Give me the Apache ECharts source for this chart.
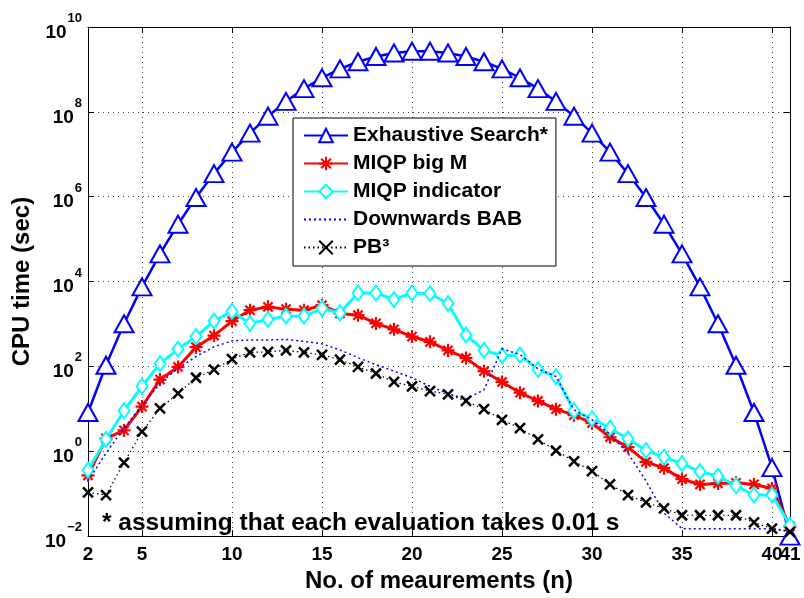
<!DOCTYPE html>
<html>
<head>
<meta charset="utf-8">
<script src="https://cdn.jsdelivr.net/npm/echarts@6/dist/echarts.min.js"></script>
<style>
html, body { margin: 0; padding: 0; background: #fff; }
#chart { width: 804px; height: 598px; }
</style>
</head>
<body>
<div id="chart"></div>
<script>
// ---- data ----
const nValues = [2,3,4,5,6,7,8,9,10,11,12,13,14,15,16,17,18,19,20,21,22,23,24,25,26,27,28,29,30,31,32,33,34,35,36,37,38,39,40,41];
const xTickValues = [2,5,10,15,20,25,30,35,40,41];
const xLabelValues = [2,5,10,15,20,25,30,35,40];
const xLastLabel = [41];

const exhaustiveSearch = [8.2, 106.6, 1012.7, 7494, 44964, 224819, 955482, 3.503e6, 1.121e7, 3.159e7,
  7.899e7, 1.762e8, 3.524e8, 6.343e8, 1.031e9, 1.516e9, 2.021e9, 2.447e9, 2.691e9, 2.691e9,
  2.447e9, 2.021e9, 1.516e9, 1.031e9, 6.343e8, 3.524e8, 1.762e8, 7.899e7, 3.159e7, 1.121e7,
  3.503e6, 955482, 224819, 44964, 7494, 1012.7, 106.6, 8.2, 0.41, 0.01];

const miqpBigM = [0.27, 2.0, 3.1, 11.3, 49, 97, 284, 532, 1170, 2110,
  2530, 2230, 2110, 2770, 1770, 1610, 1030, 748, 505, 380,
  238, 157, 77, 43, 24, 15.3, 9.8, 7.1, 4.6, 2.14,
  1.25, 0.56, 0.40, 0.22, 0.165, 0.174, 0.18, 0.165, 0.133, 0.017];

const miqpIndicator = [0.36, 1.9, 9.0, 34, 116, 255, 505, 1170, 2000, 1030,
  1280, 1530, 1530, 2310, 1830, 5370, 5370, 3750, 5370, 5180,
  3030, 552, 238, 179, 185, 84, 57, 9.0, 5.9, 3.5,
  1.96, 1.04, 0.73, 0.51, 0.33, 0.26, 0.154, 0.093, 0.093, 0.018];

const downwardsBAB = [0.2, 0.9, 3.5, 12, 40, 90, 170, 290, 400, 420,
  420, 430, 390, 340, 245, 160, 110, 77, 54, 34,
  23, 17, 28, 260, 190, 88, 58, 9.5, 5.5, 2.5,
  0.9, 0.2, 0.035, 0.015, 0.015, 0.015, 0.015, 0.015, 0.015, 0.013];

const pb3 = [0.107, 0.093, 0.54, 2.9, 10.2, 23, 54, 84, 149, 213,
  221, 238, 213, 188, 144, 97, 68, 43, 34, 26,
  22, 15.3, 9.8, 5.5, 3.5, 1.9, 1.04, 0.58, 0.34, 0.165,
  0.093, 0.062, 0.045, 0.031, 0.031, 0.031, 0.031, 0.021, 0.015, 0.0125];

const seriesNames = ['Exhaustive Search*', 'MIQP big M', 'MIQP indicator', 'Downwards BAB', 'PB\u00B3'];
const footnote = '* assuming that each evaluation takes 0.01 s';
const xAxisTitle = 'No. of meaurements (n)';
const yAxisTitle = 'CPU time (sec)';

// ---- chart ----
const FONT = '"Liberation Sans", Arial, Helvetica, sans-serif';
const pairs = arr => nValues.map((n, i) => [n, arr[i]]);

const gridLine = { show: true, lineStyle: { color: '#444', type: [1, 4], width: 1 } };
const axisLineStyle = { show: true, onZero: false, lineStyle: { color: '#000', width: 1 } };
const xLabelStyle = { margin: 9, color: '#000', fontSize: 19, fontWeight: 'bold', fontFamily: FONT,
                      hideOverlap: false, showMinLabel: true, showMaxLabel: true };

const chart = echarts.init(document.getElementById('chart'), null, { renderer: 'canvas' });

const option = {
  animation: false,
  backgroundColor: '#fff',
  grid: { left: 88, right: 14, top: 27, bottom: 56 },
  xAxis: [
    {
      type: 'value', min: 2, max: 41, position: 'bottom',
      axisLine: axisLineStyle,
      axisTick: { show: true, inside: true, length: 6, customValues: xTickValues, lineStyle: { color: '#000' } },
      axisLabel: Object.assign({ customValues: xLabelValues }, xLabelStyle),
      splitLine: gridLine,
      name: xAxisTitle, nameLocation: 'middle', nameGap: 27,
      nameTextStyle: { color: '#000', fontSize: 24, fontWeight: 'bold', fontFamily: FONT }
    },
    {
      type: 'value', min: 2, max: 41, position: 'top',
      axisLine: axisLineStyle,
      axisTick: { show: true, inside: true, length: 6, customValues: xTickValues, lineStyle: { color: '#000' } },
      axisLabel: { show: false },
      splitLine: { show: false }
    },
    {
      type: 'value', min: 2, max: 41, position: 'bottom', offset: 0,
      axisLine: { show: false },
      axisTick: { show: false },
      axisLabel: Object.assign({ customValues: xLastLabel }, xLabelStyle),
      splitLine: { show: false }
    }
  ],
  yAxis: [
    {
      type: 'log', logBase: 10, min: 0.01, max: 1e10, interval: 2, position: 'left',
      axisLine: axisLineStyle,
      axisTick: { show: true, inside: true, length: 6, lineStyle: { color: '#000' } },
      minorTick: { show: false },
      axisLabel: {
        margin: 6, color: '#000', showMinLabel: true, showMaxLabel: true,
        formatter: function (v) {
          const e = Math.round(Math.log10(v));
          const s = e < 0 ? '\u2212' + Math.abs(e) : String(e);
          return '{b|10}{s|' + s + '}';
        },
        rich: {
          b: { fontSize: 19, fontWeight: 'bold', fontFamily: FONT, color: '#000', verticalAlign: 'bottom', padding: [11, 0, 0, 0] },
          s: { fontSize: 13, fontWeight: 'bold', fontFamily: FONT, color: '#000', verticalAlign: 'top', padding: [0, 0, 0, 1] }
        }
      },
      splitLine: gridLine,
      name: yAxisTitle, nameLocation: 'middle', nameGap: 50,
      nameTextStyle: { color: '#000', fontSize: 24, fontWeight: 'bold', fontFamily: FONT }
    },
    {
      type: 'log', logBase: 10, min: 0.01, max: 1e10, interval: 2, position: 'right',
      axisLine: axisLineStyle,
      axisTick: { show: true, inside: true, length: 6, lineStyle: { color: '#000' } },
      axisLabel: { show: false },
      splitLine: { show: false }
    }
  ],
  legend: {
    orient: 'vertical', left: 293, top: 118,
    padding: [7, 8, 8, 10], itemGap: 7, itemWidth: 44, itemHeight: 17,
    backgroundColor: '#fff', borderColor: '#000', borderWidth: 1, borderRadius: 0,
    textStyle: { color: '#000', fontSize: 21, fontWeight: 'bold', fontFamily: FONT },
    data: [
      seriesNames[0], seriesNames[1], seriesNames[2],
      { name: seriesNames[3], itemStyle: { opacity: 0 } },
      seriesNames[4]
    ]
  },
  graphic: [
    {
      type: 'text', x: 102, y: 523, z: 100,
      style: { text: footnote, fill: '#000', font: 'bold 24.5px ' + FONT, verticalAlign: 'middle', align: 'left' }
    }
  ],
  series: [
    {
      name: seriesNames[0], type: 'line', data: pairs(exhaustiveSearch),
      showAllSymbol: true, symbol: 'emptyTriangle', symbolSize: [19, 17],
      lineStyle: { color: '#0000ff', width: 2.5 },
      itemStyle: { color: '#0000ff' }, z: 2
    },
    {
      name: seriesNames[1], type: 'line', data: pairs(miqpBigM),
      showAllSymbol: true,
      symbol: 'path://M5,0L5,10M0,5L10,5M1.46,1.46L8.54,8.54M8.54,1.46L1.46,8.54',
      symbolSize: 13,
      lineStyle: { color: '#ff0000', width: 3 },
      itemStyle: { color: '#ff0000', borderColor: '#ff0000', borderWidth: 2.2 }, z: 3
    },
    {
      name: seriesNames[2], type: 'line', data: pairs(miqpIndicator),
      showAllSymbol: true, symbol: 'emptyDiamond', symbolSize: [11, 15],
      lineStyle: { color: '#00ffff', width: 3 },
      itemStyle: { color: '#00ffff' }, z: 4
    },
    {
      name: seriesNames[3], type: 'line', data: pairs(downwardsBAB),
      symbol: 'none',
      lineStyle: { color: '#0000ff', width: 1.5, type: [2, 3] },
      itemStyle: { color: '#0000ff' }, z: 5
    },
    {
      name: seriesNames[4], type: 'line', data: pairs(pb3),
      showAllSymbol: true, symbol: 'path://M0,0L10,10M10,0L0,10', symbolSize: 10,
      lineStyle: { color: '#000', width: 1.2, type: [1.5, 3] },
      itemStyle: { color: '#000', borderColor: '#000', borderWidth: 2.5 }, z: 6
    }
  ]
};

chart.setOption(option);
</script>
</body>
</html>
